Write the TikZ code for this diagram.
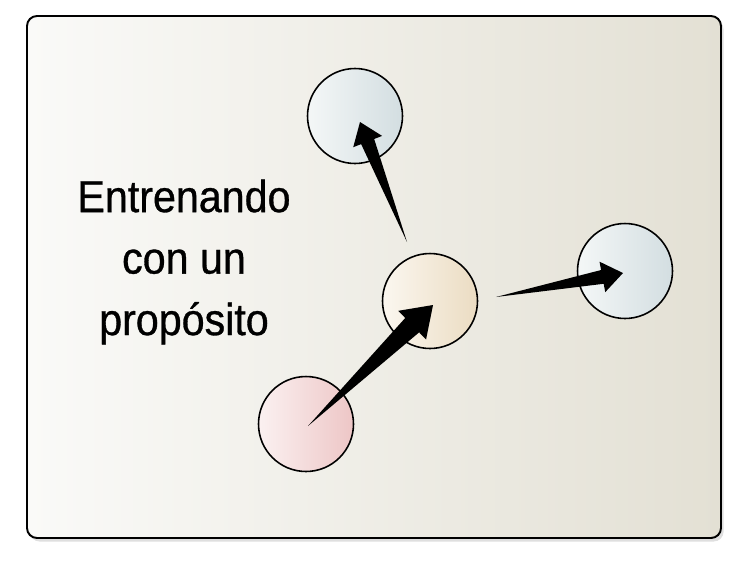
\documentclass[tikz,border=0pt]{standalone}
\usepackage{fontspec}
\newfontfamily\titlefont[FakeStretch=0.92, FakeBold=0.7]{Liberation Sans}
\usetikzlibrary{calc,shadows}

\definecolor{bgleft}{HTML}{FAFAF8}
\definecolor{bgright}{HTML}{E3E0D4}
\definecolor{blueleft}{HTML}{F4F7F7}
\definecolor{blueright}{HTML}{D3DEE1}
\definecolor{sandleft}{HTML}{FBF7F0}
\definecolor{sandright}{HTML}{EBDCC2}
\definecolor{pinkleft}{HTML}{FBF1F1}
\definecolor{pinkright}{HTML}{EDC6C6}

\tikzset{
  ball/.style={circle, draw, line width=0.9pt, minimum size=1.9cm, inner sep=0pt},
}

% tapered arrow: tail, tip, shaft half width, head half width, head length
\newcommand{\wedgearrow}[5]{%
  \fill (#1) -- ($(#2)!#5!(#1)!#3!90:(#2)$) -- ($(#2)!#5!(#1)!#4!90:(#2)$)
    -- (#2) -- ($(#2)!#5!(#1)!#4!-90:(#2)$) -- ($(#2)!#5!(#1)!#3!-90:(#2)$) -- cycle;}

\begin{document}
\begin{tikzpicture}[x=0.02cm, y=-0.02cm]
        \useasboundingbox (0,0) rectangle (750,562);

        \shadedraw[left color=bgleft, right color=bgright, draw=black, line width=1.1pt,
            rounded corners=0.2cm,
            drop shadow={opacity=0.25, shadow xshift=1.5pt, shadow yshift=-2pt}]
            (27,16) rectangle (721,538);

        \node[font=\titlefont\fontsize{25.5}{35}\selectfont, align=center] (title) at (184,262)
            {Entrenando\\con un\\propósito};

        \node[ball, left color=blueleft, right color=blueright] (up) at (355,116) {};
        \node[ball, left color=sandleft, right color=sandright] (mid) at (430,301) {};
        \node[ball, left color=blueleft, right color=blueright] (side) at (625,271) {};
        \node[ball, left color=pinkleft, right color=pinkright] (low) at (306,424) {};

        \coordinate (tail1) at (407,242);
        \coordinate (tip1) at ([shift={(5,6)}]up.center);
        \coordinate (tail2) at (496,297);
        \coordinate (tip2) at ([shift={(-2,2)}]side.center);
        \coordinate (tail3) at ([shift={(2,2)}]low.center);
        \coordinate (tip3) at ([shift={(3,4)}]mid.center);

        \wedgearrow{tail1}{tip1}{0.14cm}{0.31cm}{0.42cm}
        \wedgearrow{tail2}{tip2}{0.14cm}{0.31cm}{0.42cm}
        \wedgearrow{tail3}{tip3}{0.2cm}{0.4cm}{0.58cm}

    \end{tikzpicture}
\end{document}
